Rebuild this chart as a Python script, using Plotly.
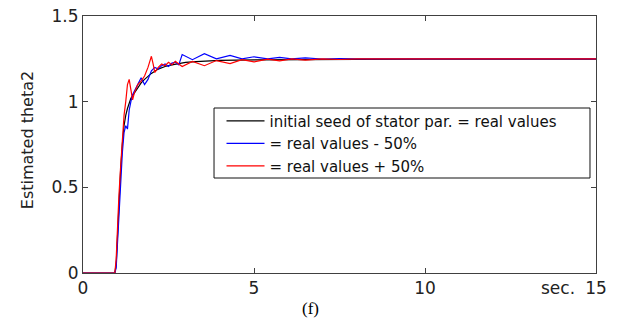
import plotly.graph_objects as go

# time (s) and estimated theta2 for the three initial seeds
t_black = [0, 0.93, 0.97, 1.0, 1.05, 1.1, 1.15, 1.2, 1.25, 1.3, 1.4, 1.5, 1.6, 1.7, 1.8, 1.9,
           2.0, 2.2, 2.4, 2.6, 2.8, 3.0, 3.3, 3.6, 4.0, 4.5, 5.0, 6.0, 7.0, 8.0, 10.0, 12.0, 15.0]
y_black = [0, 0, 0.05, 0.2, 0.42, 0.6, 0.75, 0.86, 0.92, 0.96, 1.02, 1.05, 1.08, 1.11, 1.13, 1.15,
           1.165, 1.19, 1.205, 1.215, 1.223, 1.229, 1.234, 1.238, 1.241, 1.243, 1.244, 1.245, 1.246, 1.247, 1.248, 1.248, 1.248]

t_blue = [0, 0.93, 0.97, 1.0, 1.05, 1.1, 1.15, 1.2, 1.25, 1.3, 1.35, 1.4, 1.45, 1.5, 1.6, 1.7, 1.8, 1.9,
          2.0, 2.1, 2.2, 2.3, 2.4, 2.5, 2.6, 2.7, 2.8, 2.9, 3.2, 3.55, 3.9, 4.3, 4.65, 5.0, 5.4, 5.75,
          6.1, 6.5, 7.0, 7.5, 8.0, 10.0, 12.0, 15.0]
y_blue = [0, 0, 0.03, 0.15, 0.35, 0.55, 0.7, 0.82, 0.86, 0.84, 0.95, 1.0, 1.04, 1.06, 1.1, 1.14, 1.1, 1.13,
          1.18, 1.2, 1.19, 1.21, 1.22, 1.205, 1.225, 1.23, 1.215, 1.275, 1.245, 1.28, 1.25, 1.27, 1.25, 1.262, 1.25, 1.258,
          1.25, 1.256, 1.249, 1.252, 1.25, 1.25, 1.25, 1.25]

t_red = [0, 0.93, 0.97, 1.0, 1.05, 1.1, 1.15, 1.2, 1.25, 1.3, 1.35, 1.4, 1.45, 1.5, 1.6, 1.7, 1.8, 1.9,
         2.0, 2.05, 2.1, 2.2, 2.3, 2.4, 2.5, 2.6, 2.7, 2.9, 3.2, 3.55, 3.9, 4.3, 4.65, 5.0, 5.4, 5.75,
         6.1, 6.5, 7.0, 7.5, 8.0, 10.0, 12.0, 15.0]
y_red = [0, 0, 0.08, 0.25, 0.45, 0.62, 0.78, 0.92, 1.0, 1.1, 1.13, 1.06, 1.01, 1.05, 1.1, 1.12, 1.15, 1.2,
         1.265, 1.22, 1.17, 1.2, 1.22, 1.21, 1.23, 1.215, 1.235, 1.205, 1.235, 1.21, 1.24, 1.222, 1.245, 1.232, 1.248, 1.238,
         1.25, 1.243, 1.25, 1.246, 1.25, 1.25, 1.25, 1.25]

names = ["initial seed of stator par. = real values", "= real values - 50%", "= real values + 50%"]
x_ticks = [0, 5, 10, 15]
x_tick_text = ["0", "5", "10", "15"]
y_ticks = [0, 0.5, 1, 1.5]
y_tick_text = ["0", "0.5", "1", "1.5"]

fig = go.Figure()
for t, y, n, c in [(t_black, y_black, names[0], "#000000"),
                   (t_blue, y_blue, names[1], "#0000ff"),
                   (t_red, y_red, names[2], "#ff0000")]:
    fig.add_trace(go.Scatter(x=t, y=y, mode="lines", name=n, line=dict(color=c, width=1.2)))

axcol = "#404040"
sans = "DejaVu Sans, Arial, sans-serif"
fig.update_layout(
    width=613, height=320,
    margin=dict(l=75, r=25, t=8, b=55),
    plot_bgcolor="white", paper_bgcolor="white",
    font=dict(family=sans, size=17, color="#222"),
    showlegend=True,
    legend=dict(x=0.27, y=0.655, xanchor="left", yanchor="top", itemwidth=38,
                bgcolor="rgba(0,0,0,0)", borderwidth=0,
                font=dict(family=sans, size=15, color="#111"), tracegroupgap=0),
    shapes=[dict(type="rect", xref="paper", yref="paper", x0=0.2554, x1=0.9883,
                 y0=0.3696, y1=0.642, line=dict(color="#111", width=1), fillcolor="white",
                 layer="above")],
    annotations=[
        dict(text="Estimated theta2", xref="paper", yref="paper", x=-0.109, y=0.517,
             xanchor="center", yanchor="middle",
             textangle=-90, showarrow=False, font=dict(family=sans, size=16, color="#222")),
        dict(text="sec.", xref="paper", yref="paper", x=0.962, y=-0.01, xanchor="right",
             yanchor="top", showarrow=False, font=dict(family=sans, size=17, color="#222")),
        dict(text="(f)", xref="paper", yref="paper", x=0.443, y=-0.095, yanchor="top",
             showarrow=False, font=dict(family="Liberation Serif, Times New Roman, serif", size=17, color="#000")),
    ],
)
fig.update_xaxes(range=[0, 15], tickvals=x_ticks, ticktext=x_tick_text, ticks="inside", ticklen=5,
                 tickcolor=axcol, showline=True, linecolor=axcol, linewidth=1, mirror="allticks",
                 showgrid=False, zeroline=False, automargin=False, ticklabeloverflow="allow")
fig.update_yaxes(range=[0, 1.5], tickvals=y_ticks, ticktext=y_tick_text, ticks="inside", ticklen=5,
                 tickcolor=axcol, showline=True, linecolor=axcol, linewidth=1, mirror="allticks",
                 showgrid=False, zeroline=False, automargin=False, ticklabeloverflow="allow")

fig.write_html("out.html")
